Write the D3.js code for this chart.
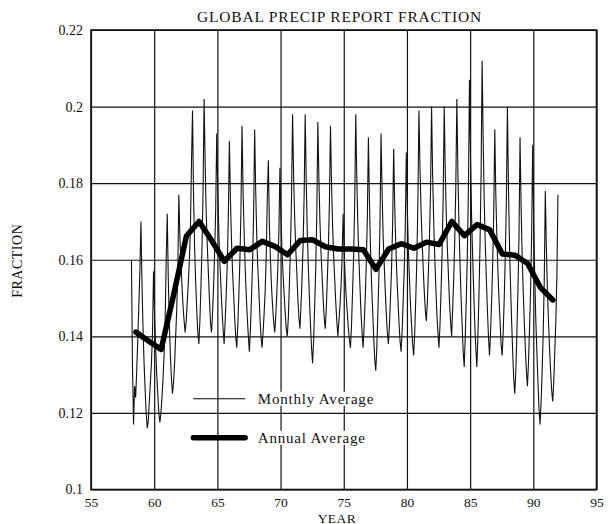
<!DOCTYPE html>
<html>
<head>
<meta charset="utf-8">
<script src="https://cdn.jsdelivr.net/npm/d3@7"></script>
<style>
  body { margin: 0; background: #fff; }
  svg { display: block; }
</style>
</head>
<body>
<div id="chart"></div>
<script>
/* Global precip report fraction: monthly + annual average */

/* ── DATA ── */
// monthly fraction, March 1958 through December 1991 (one row per year)
const monthly = [
  .160,.132,.117,.127,.124,.131,.139,.148,.157,.170,                  // 1958 (Mar-Dec)
  .154,.142,.133,.126,.120,.116,.118,.123,.128,.133,.141,.157,        // 1959
  .145,.137,.130,.125,.120,.1175,.120,.124,.129,.135,.144,.160,       // 1960
  .172,.155,.143,.135,.129,.125,.128,.133,.140,.147,.157,.177,        // 1961
  .166,.159,.153,.148,.144,.141,.144,.149,.154,.160,.168,.185,        // 1962
  .199,.176,.163,.154,.147,.141,.138,.144,.153,.163,.178,.202,        // 1963
  .185,.172,.164,.157,.150,.144,.141,.146,.153,.162,.173,.193,        // 1964
  .178,.167,.159,.153,.147,.142,.138,.144,.151,.159,.171,.191,        // 1965
  .176,.165,.157,.151,.145,.140,.137,.143,.151,.160,.173,.195,        // 1966
  .178,.167,.158,.151,.145,.140,.136,.142,.150,.159,.172,.194,        // 1967
  .178,.166,.158,.152,.145,.140,.137,.141,.146,.152,.161,.176,        // 1968
  .186,.169,.160,.153,.148,.144,.141,.145,.151,.158,.167,.184,        // 1969
  .171,.162,.156,.151,.146,.142,.140,.145,.154,.163,.176,.198,        // 1970
  .182,.171,.163,.157,.150,.145,.142,.148,.155,.164,.177,.198,        // 1971
  .180,.167,.158,.150,.143,.137,.133,.139,.148,.158,.172,.196,        // 1972
  .181,.170,.162,.156,.150,.145,.142,.147,.155,.163,.175,.195,        // 1973
  .180,.169,.161,.155,.149,.144,.140,.144,.148,.153,.160,.172,        // 1974
  .162,.155,.150,.146,.142,.139,.137,.143,.152,.161,.175,.198,        // 1975
  .181,.169,.160,.153,.146,.141,.137,.143,.150,.159,.171,.192,        // 1976
  .175,.163,.154,.147,.140,.134,.131,.137,.146,.156,.169,.193,        // 1977
  .178,.166,.159,.152,.146,.141,.138,.143,.150,.158,.169,.189,        // 1978
  .174,.164,.156,.150,.144,.139,.136,.141,.149,.157,.168,.188,        // 1979
  .173,.162,.155,.148,.143,.138,.135,.141,.150,.160,.175,.199,        // 1980
  .184,.173,.165,.158,.152,.147,.144,.149,.157,.166,.178,.200,        // 1981
  .182,.170,.161,.153,.146,.141,.137,.143,.152,.162,.176,.200,        // 1982
  .183,.171,.163,.156,.149,.144,.140,.147,.155,.165,.179,.202,        // 1983
  .183,.169,.159,.150,.143,.136,.132,.140,.150,.162,.179,.207,        // 1984
  .186,.171,.161,.152,.143,.137,.132,.140,.151,.164,.182,.212,        // 1985
  .191,.175,.164,.155,.147,.140,.135,.141,.149,.159,.172,.194,        // 1986
  .177,.166,.157,.150,.144,.138,.135,.141,.150,.161,.175,.200,        // 1987
  .179,.164,.153,.144,.136,.129,.125,.131,.141,.152,.166,.192,        // 1988
  .174,.161,.152,.144,.137,.131,.127,.133,.142,.152,.166,.190,        // 1989
  .169,.155,.144,.136,.128,.121,.117,.123,.131,.141,.155,.178,        // 1990
  .163,.152,.144,.137,.131,.126,.123,.128,.136,.144,.156,.177,        // 1991
];
const monthlyStartYear  = 58;
const monthlyStartMonth = 2;   // 0-based: March

const annualYears = [58,59,60,61,62,63,64,65,66,67,68,69,70,71,72,73,74,
                     75,76,77,78,79,80,81,82,83,84,85,86,87,88,89,90,91];
const annualValues = [.1411,.1388,.1366,.1510,.1662,.1700,.1650,.1596,.1630,.1626,
                      .1648,.1635,.1613,.1650,.1652,.1634,.1628,.1628,.1626,.1575,
                      .1628,.1642,.1630,.1646,.1640,.1700,.1663,.1692,.1678,.1615,
                      .1612,.1590,.1528,.1495];

const xTicks      = [55, 60, 65, 70, 75, 80, 85, 90, 95];
const yTicks      = [0.1, 0.12, 0.14, 0.16, 0.18, 0.2, 0.22];
const yTickLabels = ['0.1', '0.12', '0.14', '0.16', '0.18', '0.2', '0.22'];

const TITLE   = 'GLOBAL PRECIP REPORT FRACTION';
const X_LABEL = 'YEAR';
const Y_LABEL = 'FRACTION';
const LEGEND  = ['Monthly Average', 'Annual Average'];

/* ── LAYOUT ── */
const W = 608, H = 524;
const PLOT = { left: 91, right: 596.5, top: 30, bottom: 489.5 };
const SERIF = "'Liberation Serif', 'Times New Roman', serif";
const INK = '#111';

const svg = d3.select('#chart').append('svg').attr('width', W).attr('height', H);

const x = d3.scaleLinear().domain([55, 95]).range([PLOT.left, PLOT.right]);
const y = d3.scaleLinear().domain([0.1, 0.22]).range([PLOT.bottom, PLOT.top]);
const iw = PLOT.right - PLOT.left, ih = PLOT.bottom - PLOT.top;

/* grid + x labels */
svg.append('g').attr('transform', `translate(0,${PLOT.bottom})`)
  .call(d3.axisBottom(x).tickValues(xTicks).tickSize(-ih).tickPadding(8).tickFormat(d3.format('d')))
  .call(ax => ax.select('.domain').remove())
  .call(ax => ax.selectAll('line').attr('stroke', INK).attr('stroke-width', 1.2))
  .call(ax => ax.selectAll('text').attr('fill', INK)
    .style('font-family', SERIF).style('font-size', '13.5px'));

/* grid + y labels */
svg.append('g').attr('transform', `translate(${PLOT.left},0)`)
  .call(d3.axisLeft(y).tickValues(yTicks).tickSize(-iw).tickPadding(8)
    .tickFormat((d, i) => yTickLabels[i]))
  .call(ax => ax.select('.domain').remove())
  .call(ax => ax.selectAll('line').attr('stroke', INK).attr('stroke-width', 1.2))
  .call(ax => ax.selectAll('text').attr('fill', INK)
    .style('font-family', SERIF).style('font-size', '14px'));

/* frame */
svg.append('rect')
  .attr('x', PLOT.left).attr('y', PLOT.top).attr('width', iw).attr('height', ih)
  .attr('fill', 'none').attr('stroke', INK).attr('stroke-width', 1.6);

/* monthly line */
const monthX = i => monthlyStartYear + (monthlyStartMonth + i + 0.4) / 12;
svg.append('path').datum(monthly)
  .attr('fill', 'none').attr('stroke', INK).attr('stroke-width', 1.1)
  .attr('stroke-linejoin', 'miter')
  .attr('d', d3.line().x((d, i) => x(monthX(i))).y(d => y(d)));

/* annual line */
svg.append('path').datum(annualValues)
  .attr('fill', 'none').attr('stroke', '#000').attr('stroke-width', 5.5)
  .attr('stroke-linejoin', 'round').attr('stroke-linecap', 'round')
  .attr('d', d3.line().x((d, i) => x(annualYears[i] + 0.55)).y(d => y(d)));

/* legend */
const leg = svg.append('g');
[[0.1237, 1.1], [0.1135, 5.5]].forEach(([v, sw], i) => {
  const ly = y(v);
  leg.append('line')
    .attr('x1', x(63.1)).attr('x2', x(67.2)).attr('y1', ly).attr('y2', ly)
    .attr('stroke', '#000').attr('stroke-width', sw).attr('stroke-linecap', i ? 'round' : 'butt');
  const t = leg.append('text')
    .attr('x', x(68.2)).attr('y', ly + 5)
    .style('font-family', SERIF).style('font-size', '15px').style('letter-spacing', '0.8px')
    .attr('fill', INK).text(LEGEND[i]);
  const bb = t.node().getBBox();
  leg.insert('rect', 'text')
    .attr('x', bb.x - 3).attr('y', bb.y + 1).attr('width', bb.width + 6).attr('height', bb.height - 2)
    .attr('fill', '#fff');
});

/* title & axis labels */
svg.append('text').attr('x', 339.5).attr('y', 22)
  .attr('text-anchor', 'middle').attr('fill', INK)
  .style('font-family', SERIF).style('font-size', '15.5px').style('letter-spacing', '0.8px')
  .text(TITLE);

svg.append('text').attr('x', 337).attr('y', 522.5)
  .attr('text-anchor', 'middle').attr('fill', INK)
  .style('font-family', SERIF).style('font-size', '13.5px').style('letter-spacing', '0.5px')
  .text(X_LABEL);

svg.append('text')
  .attr('transform', `translate(22,${(PLOT.top + PLOT.bottom) / 2 + 1}) rotate(-90)`)
  .attr('text-anchor', 'middle').attr('fill', INK)
  .style('font-family', SERIF).style('font-size', '14px').style('letter-spacing', '0.5px')
  .text(Y_LABEL);
</script>
</body>
</html>
